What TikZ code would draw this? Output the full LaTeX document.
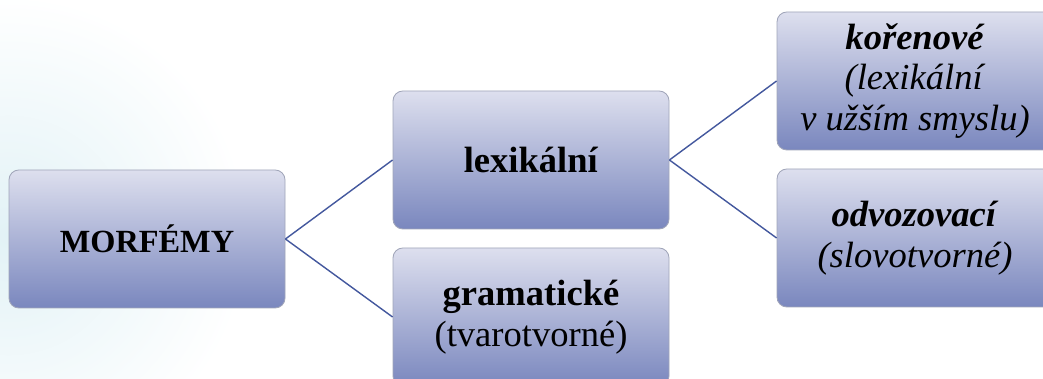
\documentclass[tikz,border=0pt]{standalone}
\usepackage{fontspec}
\setmainfont{Liberation Serif}
\usepackage{tikz}
\usetikzlibrary{positioning}
\definecolor{boxtop}{RGB}{221,223,238}
\definecolor{boxbot}{RGB}{122,135,190}
\definecolor{boxline}{RGB}{160,165,185}
\definecolor{linkblue}{RGB}{68,88,158}
\definecolor{glow}{RGB}{226,242,246}
\tikzset{
  morfbox/.style={rectangle, rounded corners=7pt, draw=boxline, line width=0.6pt,
    top color=boxtop, bottom color=boxbot, minimum width=6.9cm, minimum height=3.45cm,
    align=center, font=\fontsize{26}{29}\selectfont},
  link/.style={draw=linkblue, line width=1pt}
}

\begin{document}
\begin{tikzpicture}
		\useasboundingbox (0,0) rectangle (26.075,9.475);
		\clip (0,0) rectangle (26.075,9.475);
		\fill[white] (0,0) rectangle (26.075,9.475);
		% faint glow on the left
		\shade[inner color=glow, outer color=white] (-5.8,-2.4) rectangle (6.2,9.6);
		\node[morfbox, font=\fontsize{23}{26}\selectfont] (morf) at (3.675,3.5) {\textbf{MORFÉMY}};
		\node[morfbox] (lex) at (13.275,5.475) {\textbf{lexikální}};
		\node[morfbox] (gram) at (13.275,1.55) {\textbf{gramatické}\\(tvarotvorné)};
		\node[morfbox] (kor) at (22.875,7.45) {\textbf{\textit{kořenové}}\\\textit{(lexikální}\\\textit{v užším smyslu)}};
		\node[morfbox] (odv) at (22.875,3.525) {\textbf{\textit{odvozovací}}\\\textit{(slovotvorné)}};
		\draw[link] (morf.east)--(lex.west);
		\draw[link] (morf.east)--(gram.west);
		\draw[link] (lex.east)--(kor.west);
		\draw[link] (lex.east)--(odv.west);
	\end{tikzpicture}
\end{document}
